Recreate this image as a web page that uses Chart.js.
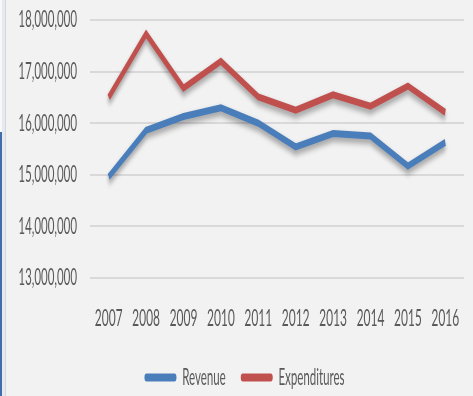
<!DOCTYPE html>
<html>
<head>
<meta charset="utf-8">
<script src="https://cdn.jsdelivr.net/npm/chart.js@4/dist/chart.umd.min.js"></script>
<style>
  html, body { margin: 0; padding: 0; background: #f2f2f2; overflow: hidden; }
  #page { position: relative; width: 473px; height: 396px; background: #f2f2f2; overflow: hidden; }
  #wrap { position: absolute; left: 0; top: 0; width: 960px; height: 396px; transform: scaleX(0.5); transform-origin: 0 0; }
  .edge1 { position: absolute; left: 0; top: 0; width: 2px; height: 396px; background: #f7f8fa; }
  .edge2 { position: absolute; left: 2px; top: 0; width: 3px; height: 396px; background: #e6eaf0; }
  .edge3 { position: absolute; left: 5px; top: 0; width: 1px; height: 396px; background: #d6d6d6; }
  .edgeBlue { position: absolute; left: 0; top: 132px; width: 2px; height: 264px; background: #3f6ea8; }
</style>
</head>
<body>
<div id="page">
  <div id="wrap"><canvas id="c"></canvas></div>
  <div class="edge1"></div><div class="edge2"></div><div class="edge3"></div><div class="edgeBlue"></div>
</div>
<script>
const years = ['2007','2008','2009','2010','2011','2012','2013','2014','2015','2016'];
const revenue = [14960000, 15860000, 16130000, 16300000, 16000000, 15540000, 15800000, 15750000, 15170000, 15630000];
const expenditures = [16500000, 17730000, 16680000, 17200000, 16510000, 16250000, 16550000, 16330000, 16720000, 16210000];
const yTicks = [13000000, 14000000, 15000000, 16000000, 17000000, 18000000];

const FONT = 'Lato, "Liberation Sans", sans-serif';
const TEXT = '#595959';

const shadowPlugin = {
  id: 'lineShadow',
  beforeDatasetsDraw(chart) {
    const ctx = chart.ctx;
    ctx.save();
    ctx.shadowColor = 'rgba(0,0,0,0.38)';
    ctx.shadowBlur = 6;
    ctx.shadowOffsetX = 0;
    ctx.shadowOffsetY = 4;
  },
  afterDatasetsDraw(chart) { chart.ctx.restore(); }
};

new Chart(document.getElementById('c'), {
  type: 'line',
  data: {
    labels: years,
    datasets: [
      { label: 'Revenue', data: revenue, borderColor: '#4a7ebb', backgroundColor: '#4a7ebb',
        borderWidth: 7, pointRadius: 0, pointHoverRadius: 0, tension: 0, fill: false },
      { label: 'Expenditures', data: expenditures, borderColor: '#c0504d', backgroundColor: '#c0504d',
        borderWidth: 7, pointRadius: 0, pointHoverRadius: 0, tension: 0, fill: false }
    ]
  },
  plugins: [shadowPlugin],
  options: {
    responsive: true,
    maintainAspectRatio: false,
    animation: false,
    devicePixelRatio: 1,
    layout: { padding: { left: 20, right: 2, top: 20, bottom: -3 } },
    plugins: {
      tooltip: { enabled: false },
      legend: {
        position: 'bottom',
        labels: {
          color: TEXT,
          font: { family: FONT, size: 23 },
          boxWidth: 64,
          boxHeight: 8,
          useBorderRadius: true,
          borderRadius: 4,
          padding: 30,
          generateLabels(chart) {
            return Chart.defaults.plugins.legend.labels.generateLabels(chart).map(l => Object.assign(l, { lineWidth: 0 }));
          }
        }
      }
    },
    scales: {
      x: {
        offset: true,
        grid: { display: false, drawTicks: false },
        border: { display: false },
        ticks: { color: TEXT, font: { family: FONT, size: 24 }, padding: 26, maxRotation: 0, autoSkip: false },
        afterFit(s) { s.height = 58; s.paddingLeft = 0; s.paddingRight = 0; }
      },
      y: {
        min: 13000000,
        max: 18000000,
        afterBuildTicks(s) { s.ticks = yTicks.map(v => ({ value: v })); },
        grid: { color: '#d9d9d9', lineWidth: 2, drawTicks: false },
        border: { display: false },
        ticks: { color: TEXT, font: { family: FONT, size: 23 }, padding: 26,
          callback: v => Number(v).toLocaleString('en-US') },
        afterFit(s) { s.width = 160; s.paddingTop = 0; s.paddingBottom = 0; }
      },
      yRight: {
        position: 'right',
        display: true,
        grid: { display: false, drawTicks: false },
        border: { display: false },
        ticks: { display: false },
        afterFit(s) { s.width = 30; s.paddingTop = 0; s.paddingBottom = 0; }
      }
    }
  }
});
</script>
</body>
</html>
